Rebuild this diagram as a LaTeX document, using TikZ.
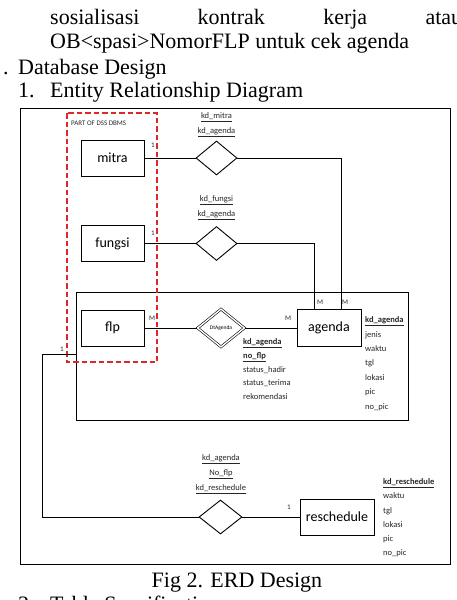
\documentclass[tikz,border=0pt]{standalone}
\usepackage{fontspec}
\setmainfont{Liberation Serif}
\newfontfamily\erdfont{Carlito}
\usepackage{tikz}
\usetikzlibrary{positioning, shapes.geometric}
\definecolor{dbmsred}{RGB}{220,40,40}
\tikzset{
  ent/.style={draw, line width=0.9pt, minimum width=63pt, minimum height=36pt,
              inner sep=0pt, font=\erdfont\fontsize{14}{14}\selectfont},
  rel/.style={draw, diamond, line width=0.9pt, minimum width=41pt,
              minimum height=34pt, inner sep=0pt},
  wrel/.style={rel, double, line width=0.6pt, double distance=1.4pt, minimum width=47pt,
               minimum height=38pt, font=\erdfont\fontsize{5.5}{6}\selectfont},
  keys/.style={align=center, inner sep=0pt, text=black!85,
               font=\erdfont\fontsize{8.5}{15}\selectfont},
  attr/.style={align=left, anchor=north west, inner sep=0pt, text=black!85},
  card/.style={inner sep=0pt, text=black!85, font=\erdfont\fontsize{7}{7}\selectfont},
  txt/.style={anchor=base west, inner sep=0pt, font=\fontsize{22}{24}\selectfont},
  link/.style={line width=0.9pt},
  dbms/.style={draw=dbmsred, line width=1.3pt, dash pattern=on 5.5pt off 3pt}
}

\begin{document}
\begin{tikzpicture}[x=1pt, y=-1pt]
  \useasboundingbox (0,0) rectangle (456,600);
  % text of the page round the figure
  \node[txt] (l1) at (50,24) {\makebox[412pt][s]{sosialisasi kontrak kerja atau}};
  \node[txt] (l2) at (50,48) {OB<spasi>NomorFLP untuk cek agenda};
  \node[txt] (dot) at (3,74) {.};
  \node[txt] (l3) at (18,74) {Database Design};
  \node[txt] (n1) at (18,97) {1.};
  \node[txt] (l4) at (50,97) {Entity Relationship Diagram};
  \node[txt, anchor=base] (cap) at (237,587) {Fig 2. ERD Design};
  \node[txt] (n2) at (18,611) {2.};
  \node[txt] (l5) at (50,611) {Table Specification};

  % frames
  \draw[link] (20,108) rectangle (450,564);
  \node[draw, link, minimum width=332pt, minimum height=128pt, inner sep=0pt] (grp) at (242,356) {};
  \draw[dbms] (67,113) rectangle (157,362);
  \node[card, anchor=west] (part) at (71,123) {PART OF DSS DBMS};

  % entities
  \node[ent] (mitra) at (112.5,158) {mitra};
  \node[ent] (fungsi) at (112.5,243.5) {fungsi};
  \node[ent] (flp) at (112.5,328) {flp};
  \node[ent, minimum width=64pt, minimum height=37pt] (agenda) at (329,328) {agenda};
  \node[ent, minimum width=74pt] (resched) at (337,517) {reschedule};

  % relations
  \node[rel] (relmitra) at (216.5,158) {};
  \node[rel] (relfungsi) at (216.5,243.5) {};
  \node[wrel] (dtagenda) at (221,328) {DtAgenda};
  \node[rel, minimum width=43pt] (relresc) at (220.5,517) {};

  % keys and attributes
  \node[keys] (kmitra) at (216.5,125) {\underline{kd\_mitra}\\\underline{kd\_agenda}};
  \node[keys] (kfungsi) at (216.5,208) {\underline{kd\_fungsi}\\\underline{kd\_agenda}};
  \node[keys] (kresc) at (221,474) {\underline{kd\_agenda}\\\underline{No\_flp}\\\underline{kd\_reschedule}};
  \node[attr, font=\erdfont\fontsize{8.5}{13.7}\selectfont] (dtattr) at (243,338.5)
    {\underline{\textbf{kd\_agenda}}\\\underline{\textbf{no\_flp}}\\status\_hadir\\status\_terima\\rekomendasi};
  \node[attr, font=\erdfont\fontsize{8.5}{14.4}\selectfont] (agattr) at (365,316.5)
    {\underline{\textbf{kd\_agenda}}\\jenis\\waktu\\tgl\\lokasi\\pic\\no\_pic};
  \node[attr, font=\erdfont\fontsize{8.5}{14.2}\selectfont] (rsattr) at (383,478.5)
    {\underline{\textbf{kd\_reschedule}}\\waktu\\tgl\\lokasi\\pic\\no\_pic};

  % cardinalities
  \node[card] (c1) at (153,145) {1};
  \node[card] (c2) at (153,233) {1};
  \node[card] (c3) at (152,318) {M};
  \node[card] (c4) at (288,318) {M};
  \node[card] (c5) at (320,302) {M};
  \node[card] (c6) at (345,302) {M};
  \node[card] (c7) at (62,349) {1};
  \node[card] (c8) at (289,507) {1};

  % connectors
  \draw[link] (mitra) -- (relmitra);
  \draw[link] (relmitra) -| ([xshift=12pt]agenda.north);
  \draw[link] (fungsi) -- (relfungsi);
  \draw[link] (relfungsi) -| ([xshift=-15pt]agenda.north);
  \draw[link] (flp) -- (dtagenda) -- (agenda);
  \coordinate (bend) at (42,354);
  \draw[link] (grp.west |- bend) -- (bend) |- (relresc);
  \draw[link] (relresc) -- (resched);
\end{tikzpicture}
\end{document}
